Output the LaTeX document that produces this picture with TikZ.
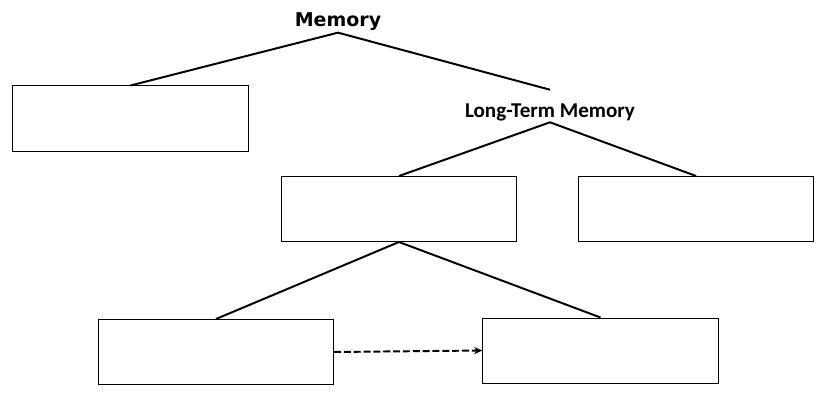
\documentclass[tikz,border=0pt]{standalone}
\usepackage{fontspec}
\newfontfamily\titlefont{DejaVu Sans}
\newfontfamily\labelfont{Carlito}
\usetikzlibrary{arrows.meta, positioning}

\begin{document}
\begin{tikzpicture}[
        x=0.025cm, y=-0.025cm,
        box/.style={draw, line width=0.7pt, minimum width=5.875cm, minimum height=1.625cm, inner sep=0pt},
        branch/.style={line width=1.4pt},
        arr/.style={-{Stealth[length=6pt, width=5pt]}, line width=1.4pt, dash pattern=on 5pt off 2pt}
    ]
        \useasboundingbox (0,0) rectangle (827,400);

        \node[inner sep=1pt, font=\titlefont\bfseries\fontsize{13.5}{16}\selectfont] (mem) at (338,22) {Memory};
        \node[inner sep=1pt, font=\labelfont\bfseries\fontsize{15}{18}\selectfont] (ltm) at (550,112) {Long-Term Memory};

        \node[box] (stm)  at (130.5,118.5) {};
        \node[box] (expl) at (399,209) {};
        \node[box, right=1.525cm of expl] (impl) {};
        \node[box] (epi)  at (216,352) {};
        \node[box] (sem)  at (600.5,350.5) {};

        \draw[branch] (stm.north) -- (mem.south) -- ([yshift=8.5pt]ltm.north);
        \draw[branch] (expl.north) -- (ltm.south) -- (impl.north);
        \draw[branch] (epi.north) -- (expl.south) -- (sem.north);
        \draw[arr] (epi.east) -- (sem.west);
    \end{tikzpicture}
\end{document}
